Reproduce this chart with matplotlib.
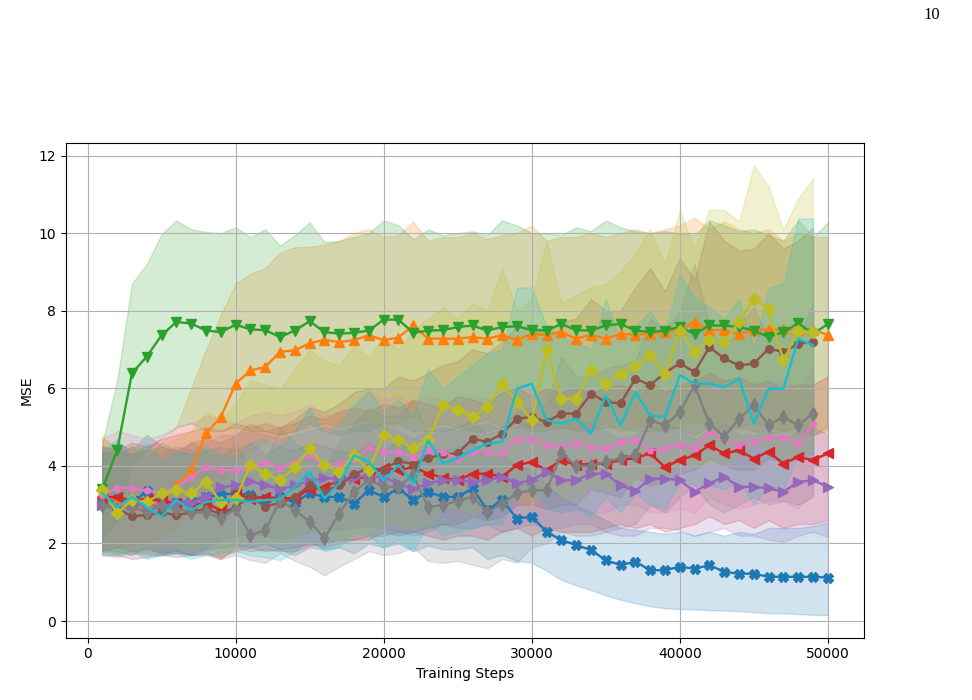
import numpy as np
from matplotlib import pyplot as plt

steps = [1000 * k for k in range(1, 51)]

blue_mean = [3.10, 3.15, 3.05, 3.35, 3.05, 3.05, 3.10, 3.20, 3.25, 3.30,
             3.25, 3.15, 3.20, 3.05, 3.30, 3.20, 3.20, 3.03, 3.37, 3.20,
             3.42, 3.12, 3.33, 3.20, 3.20, 3.42, 2.86, 3.12, 2.64, 2.69,
             2.30, 2.09, 1.96, 1.83, 1.57, 1.44, 1.53, 1.31, 1.31, 1.40,
             1.35, 1.44, 1.27, 1.22, 1.22, 1.14, 1.14, 1.14, 1.14, 1.12]
blue_upper = [4.3, 4.6, 4.4, 4.8, 4.5, 4.3, 4.6, 4.4, 4.5, 4.4,
              4.6, 4.3, 4.5, 4.4, 4.6, 4.5, 4.4, 4.3, 4.6, 4.4,
              4.7, 4.3, 4.5, 4.4, 4.5, 4.6, 4.2, 4.3, 4.0, 3.9,
              3.5, 3.2, 3.0, 2.8, 2.6, 2.4, 2.35, 2.3, 2.25, 2.3,
              2.2, 2.3, 2.2, 2.3, 2.25, 2.4, 2.4, 2.4, 2.45, 2.55]
blue_lower = [1.85, 1.8, 1.7, 1.9, 1.75, 1.8, 1.7, 1.85, 1.9, 1.95,
              1.9, 2.0, 1.85, 1.7, 1.9, 1.85, 1.9, 1.75, 2.0, 1.9,
              2.0, 1.8, 1.95, 1.85, 1.85, 1.9, 1.6, 1.7, 1.55, 1.5,
              1.3, 1.06, 0.92, 0.8, 0.66, 0.55, 0.46, 0.38, 0.33, 0.31,
              0.3, 0.28, 0.27, 0.25, 0.23, 0.2, 0.2, 0.18, 0.16, 0.15]

orange_mean = [3.30, 3.10, 3.00, 2.95, 3.10, 3.50, 3.89, 4.84, 5.26, 6.12,
               6.46, 6.55, 6.94, 6.98, 7.16, 7.25, 7.19, 7.24, 7.37, 7.24,
               7.31, 7.62, 7.28, 7.28, 7.28, 7.32, 7.28, 7.37, 7.25, 7.40,
               7.38, 7.45, 7.28, 7.38, 7.28, 7.40, 7.38, 7.40, 7.45, 7.50,
               7.72, 7.50, 7.50, 7.40, 7.50, 7.52, 7.52, 7.50, 7.50, 7.38]
orange_upper = [4.7, 4.5, 4.3, 4.5, 4.6, 5.0, 6.0, 7.0, 7.9, 8.7,
                8.95, 9.1, 9.5, 9.64, 9.65, 9.7, 9.8, 10.0, 10.1, 9.9,
                9.95, 10.3, 9.8, 9.9, 9.9, 10.0, 9.85, 9.95, 10.0, 10.2,
                9.8, 9.9, 9.9, 10.0, 9.9, 10.0, 10.1, 10.0, 10.1, 10.2,
                10.4, 10.1, 10.3, 10.1, 10.0, 10.1, 9.8, 10.0, 9.9, 9.9]
orange_lower = [1.9, 1.9, 2.0, 2.0, 2.2, 2.4, 2.8, 3.2, 3.6, 4.1,
                4.4, 4.6, 4.8, 4.9, 5.0, 5.1, 5.0, 5.1, 5.2, 5.0,
                5.1, 5.3, 5.0, 5.1, 5.0, 5.1, 5.2, 5.0, 5.1, 5.0,
                5.1, 5.0, 4.9, 5.0, 5.1, 4.9, 5.0, 5.0, 4.9, 5.0,
                5.2, 5.0, 4.9, 5.0, 5.1, 5.0, 4.9, 4.8, 4.8, 4.9]

green_mean = [3.40, 4.40, 6.39, 6.82, 7.37, 7.71, 7.67, 7.49, 7.45, 7.64,
              7.52, 7.50, 7.32, 7.49, 7.73, 7.45, 7.41, 7.43, 7.49, 7.77,
              7.77, 7.43, 7.49, 7.50, 7.58, 7.62, 7.49, 7.58, 7.60, 7.50,
              7.49, 7.66, 7.50, 7.49, 7.62, 7.66, 7.49, 7.45, 7.49, 7.58,
              7.40, 7.62, 7.62, 7.58, 7.49, 7.32, 7.45, 7.68, 7.40, 7.66]
green_upper = [4.6, 6.2, 8.7, 9.2, 9.98, 10.33, 10.1, 10.03, 10.0, 10.15,
               9.9, 10.1, 9.68, 9.95, 10.28, 9.77, 9.8, 9.9, 10.0, 10.33,
               10.2, 9.85, 10.1, 9.95, 10.0, 10.05, 9.95, 10.33, 10.2, 10.0,
               10.0, 9.95, 10.15, 10.05, 10.33, 10.15, 10.05, 10.0, 10.05, 10.0,
               9.95, 10.33, 10.2, 10.05, 10.1, 9.95, 9.8, 10.33, 9.9, 10.28]
green_lower = [2.1, 2.6, 4.1, 4.4, 4.7, 5.0, 5.1, 4.9, 4.9, 5.0,
               4.9, 4.9, 4.8, 4.9, 5.1, 4.9, 4.8, 4.9, 4.9, 5.1,
               5.1, 4.9, 4.9, 4.9, 5.0, 4.9, 4.9, 5.0, 5.0, 4.9,
               4.9, 5.0, 4.9, 4.9, 5.0, 5.0, 4.9, 4.9, 4.9, 5.0,
               4.8, 5.0, 5.0, 5.0, 4.9, 4.8, 4.9, 5.0, 4.8, 5.0]

red_mean = [3.20, 3.20, 3.10, 3.15, 3.10, 3.05, 2.99, 3.05, 2.85, 3.30,
            3.15, 3.20, 3.15, 3.18, 3.40, 3.45, 3.63, 3.67, 3.72, 3.95,
            3.89, 3.97, 3.80, 3.70, 3.63, 3.80, 3.80, 3.72, 4.02, 4.10,
            3.89, 4.15, 4.02, 4.06, 4.06, 4.15, 4.20, 4.32, 3.97, 4.15,
            4.27, 4.53, 4.32, 4.40, 4.19, 4.36, 4.06, 4.23, 4.15, 4.32]
red_upper = [4.5, 4.4, 4.6, 4.5, 4.7, 4.8, 4.9, 5.0, 4.9, 5.1,
             5.0, 5.1, 5.0, 5.1, 5.3, 5.2, 5.4, 5.5, 5.4, 5.6,
             5.5, 5.7, 5.6, 5.5, 5.8, 5.7, 5.6, 5.9, 6.0, 5.8,
             6.0, 5.9, 6.0, 5.9, 6.0, 6.1, 5.9, 6.2, 5.9, 6.1,
             6.2, 6.4, 6.2, 6.3, 6.1, 6.2, 6.0, 6.1, 6.1, 6.3]
red_lower = [1.8, 1.9, 1.8, 1.85, 1.75, 1.8, 1.7, 1.75, 1.6, 1.9,
             1.8, 1.85, 1.8, 1.8, 1.95, 2.0, 2.1, 2.1, 2.1, 2.3,
             2.2, 2.3, 2.2, 2.1, 2.2, 2.2, 2.1, 2.3, 2.4, 2.2,
             2.4, 2.3, 2.3, 2.3, 2.4, 2.5, 2.4, 2.5, 2.3, 2.4,
             2.5, 2.7, 2.5, 2.6, 2.4, 2.6, 2.4, 2.5, 2.5, 2.6]

purple_mean = [3.00, 2.90, 3.00, 3.00, 2.95, 3.05, 3.05, 3.20, 3.45, 3.50,
               3.60, 3.50, 3.40, 3.50, 3.60, 3.70, 3.65, 3.70, 3.75, 3.70,
               3.55, 3.40, 3.55, 3.63, 3.63, 3.59, 3.63, 3.72, 3.55, 3.63,
               3.85, 3.63, 3.63, 3.80, 3.80, 3.50, 3.35, 3.67, 3.67, 3.63,
               3.33, 3.55, 3.72, 3.46, 3.46, 3.42, 3.33, 3.59, 3.63, 3.46]
purple_upper = [4.4, 4.3, 4.5, 4.4, 4.3, 4.5, 4.4, 4.6, 4.8, 4.8,
                4.9, 4.8, 4.7, 4.8, 4.9, 5.0, 4.9, 5.0, 5.1, 5.0,
                4.9, 4.7, 4.9, 5.0, 4.9, 5.0, 5.1, 4.9, 5.0, 5.2,
                5.0, 5.0, 5.2, 5.1, 4.9, 4.7, 4.8, 5.0, 5.0, 5.0,
                4.7, 4.9, 5.1, 4.8, 4.8, 4.8, 4.7, 4.9, 5.0, 4.8]
purple_lower = [1.7, 1.65, 1.75, 1.7, 1.7, 1.75, 1.75, 1.9, 2.1, 2.2,
                2.25, 2.2, 2.1, 2.2, 2.3, 2.4, 2.35, 2.4, 2.45, 2.4,
                2.3, 2.2, 2.3, 2.5, 2.4, 2.4, 2.5, 2.3, 2.4, 2.5,
                2.4, 2.4, 2.5, 2.5, 2.3, 2.2, 2.2, 2.4, 2.4, 2.34,
                2.2, 2.3, 2.4, 2.2, 2.2, 2.1, 2.04, 2.2, 2.3, 2.17]

brown_mean = [3.00, 2.90, 2.70, 2.73, 2.80, 2.73, 2.80, 2.90, 2.75, 2.95,
              3.20, 2.95, 3.05, 3.20, 3.50, 3.35, 3.50, 3.78, 3.95, 3.90,
              4.12, 4.05, 4.20, 4.30, 4.32, 4.70, 4.62, 4.83, 5.22, 5.26,
              5.13, 5.35, 5.35, 5.86, 5.65, 5.61, 6.25, 6.08, 6.40, 6.64,
              6.42, 7.06, 6.77, 6.59, 6.64, 7.02, 6.94, 7.15, 7.19]
brown_upper = [4.5, 4.4, 4.3, 4.4, 4.5, 4.4, 4.6, 4.7, 4.6, 4.8,
               5.1, 4.9, 5.0, 5.2, 5.5, 5.4, 5.6, 5.9, 6.0, 6.0,
               6.3, 6.2, 6.4, 6.6, 6.7, 7.0, 6.9, 7.2, 7.6, 7.6,
               7.5, 7.7, 7.8, 8.3, 8.0, 8.0, 8.6, 9.1, 8.5, 9.35,
               8.8, 10.3, 9.8, 9.55, 9.6, 10.0, 9.6, 9.8, 10.15]
brown_lower = [1.7, 1.7, 1.6, 1.65, 1.7, 1.65, 1.7, 1.75, 1.65, 1.8,
               1.9, 1.8, 1.85, 1.9, 2.0, 1.9, 2.0, 2.1, 2.2, 2.2,
               2.3, 2.3, 2.4, 2.5, 2.5, 2.7, 2.6, 2.7, 3.0, 3.0,
               2.9, 3.0, 3.0, 3.4, 3.3, 3.2, 3.7, 3.5, 3.6, 3.8,
               3.9, 4.2, 4.0, 3.9, 3.9, 4.2, 4.1, 4.3, 4.3]

pink_mean = [3.25, 3.44, 3.42, 3.37, 3.29, 3.46, 3.72, 3.97, 3.89, 3.89,
             3.94, 4.10, 3.94, 4.10, 4.27, 4.02, 4.06, 4.19, 4.49, 4.36,
             4.36, 4.23, 4.40, 4.36, 4.19, 4.36, 4.36, 4.32, 4.70, 4.70,
             4.53, 4.49, 4.58, 4.49, 4.45, 4.62, 4.66, 4.40, 4.45, 4.53,
             4.45, 4.88, 4.70, 4.53, 4.62, 4.75, 4.75, 4.58, 5.09]
pink_upper = [4.7, 4.9, 4.8, 4.7, 4.8, 5.0, 5.1, 5.3, 5.2, 5.1,
              5.3, 5.4, 5.3, 5.4, 5.6, 5.3, 5.4, 5.5, 5.9, 5.7,
              5.8, 5.6, 5.8, 5.7, 5.6, 5.8, 5.7, 5.7, 6.1, 6.0,
              5.9, 5.9, 6.0, 5.9, 5.8, 6.0, 6.1, 5.8, 5.9, 6.0,
              5.9, 6.3, 6.1, 6.0, 6.0, 6.2, 6.2, 6.0, 6.5]
pink_lower = [1.8, 2.0, 1.9, 1.9, 1.8, 1.9, 2.1, 2.3, 2.3, 2.3,
              2.3, 2.5, 2.3, 2.5, 2.6, 2.4, 2.4, 2.6, 2.8, 2.7,
              2.7, 2.6, 2.7, 2.7, 2.6, 2.7, 2.7, 2.7, 3.0, 3.0,
              2.9, 2.8, 2.9, 2.8, 2.8, 3.0, 3.0, 2.8, 2.8, 2.9,
              2.8, 3.2, 3.0, 2.9, 3.0, 3.1, 3.1, 2.9, 3.3]

gray_mean = [3.00, 2.90, 2.95, 2.80, 3.00, 2.90, 2.80, 2.80, 2.65, 2.90,
             2.21, 2.34, 3.12, 2.86, 2.56, 2.13, 2.77, 3.33, 3.63, 3.46,
             3.46, 3.76, 2.94, 2.99, 3.10, 3.20, 2.81, 3.03, 3.29, 3.37,
             3.37, 4.32, 4.00, 4.00, 4.10, 4.20, 4.27, 5.18, 5.05, 5.39,
             6.08, 5.09, 4.75, 5.22, 5.56, 5.05, 5.26, 5.05, 5.35]
gray_upper = [4.4, 4.3, 4.5, 4.2, 4.6, 4.4, 4.3, 4.4, 4.2, 4.6,
              3.9, 4.1, 5.0, 4.6, 4.3, 3.9, 4.6, 5.1, 5.5, 5.3,
              5.3, 5.7, 4.8, 4.9, 5.0, 5.2, 4.8, 5.0, 5.4, 5.5,
              5.6, 6.8, 6.3, 6.3, 6.5, 6.6, 6.7, 7.8, 7.5, 8.0,
              9.2, 7.6, 7.0, 7.6, 8.1, 7.3, 7.6, 7.3, 8.2]
gray_lower = [1.8, 1.75, 1.8, 1.75, 1.7, 1.75, 1.7, 1.7, 1.6, 1.7,
              1.57, 1.5, 1.75, 1.55, 1.4, 1.18, 1.4, 1.6, 1.8, 1.7,
              1.75, 1.9, 1.55, 1.5, 1.55, 1.45, 1.36, 1.6, 1.5, 1.9,
              2.0, 2.3, 2.2, 2.2, 2.3, 2.4, 2.5, 3.0, 2.8, 3.2,
              3.5, 3.0, 2.8, 3.0, 3.2, 3.0, 3.1, 3.0, 3.2]

olive_mean = [3.39, 2.78, 3.12, 3.07, 3.29, 3.37, 3.29, 3.59, 3.07, 3.16,
              4.02, 3.80, 3.63, 3.97, 4.45, 4.02, 3.85, 4.27, 3.89, 4.79,
              4.66, 4.45, 4.66, 5.56, 5.45, 5.26, 5.52, 6.12, 5.65, 5.18,
              6.98, 5.73, 5.73, 6.46, 6.12, 6.38, 6.57, 6.85, 6.38, 7.49,
              6.94, 7.24, 7.19, 7.71, 8.31, 8.05, 6.72, 7.49, 7.45]
olive_upper = [4.8, 4.3, 4.5, 4.4, 4.5, 4.7, 4.9, 5.4, 5.2, 5.6,
               6.2, 6.1, 6.0, 6.5, 7.0, 6.7, 6.6, 7.1, 6.8, 7.3,
               7.0, 7.5, 7.8, 8.1, 7.8, 8.2, 8.0, 9.1, 8.0, 8.3,
               9.8, 8.2, 8.4, 8.6, 8.7, 9.0, 9.5, 10.1, 9.2, 10.6,
               9.6, 10.6, 10.6, 10.3, 11.75, 11.2, 10.1, 10.9, 11.4]
olive_lower = [1.8, 1.7, 1.8, 1.8, 1.9, 1.9, 1.8, 2.0, 1.8, 1.9,
               2.2, 2.1, 2.0, 2.2, 2.4, 2.2, 2.1, 2.3, 2.2, 2.6,
               2.5, 2.4, 2.5, 3.0, 2.9, 2.8, 2.9, 3.3, 3.1, 2.9,
               3.6, 3.2, 3.2, 3.5, 3.4, 3.5, 3.6, 3.8, 3.6, 4.3,
               4.0, 4.1, 4.1, 4.3, 4.6, 4.5, 3.9, 4.3, 4.4]

cyan_mean = [3.29, 2.94, 3.20, 2.94, 2.69, 3.12, 2.86, 3.07, 3.12, 3.12,
             3.07, 3.12, 3.14, 3.46, 3.85, 3.16, 3.55, 4.27, 4.10, 3.63,
             4.02, 3.55, 4.66, 4.06, 4.20, 4.40, 4.58, 4.62, 5.99, 6.12,
             5.18, 5.09, 5.22, 4.83, 5.82, 5.05, 5.90, 5.30, 5.26, 6.34,
             6.12, 6.12, 6.03, 6.25, 5.09, 5.99, 5.99, 7.28, 7.11]
cyan_upper = [4.4, 4.7, 4.2, 4.6, 4.1, 4.4, 4.3, 4.5, 4.3, 4.2,
              4.6, 4.7, 4.5, 4.9, 5.5, 4.8, 5.1, 5.6, 5.95, 5.4,
              5.7, 5.3, 6.5, 6.0, 6.3, 6.6, 6.9, 7.0, 8.6, 8.6,
              7.6, 7.3, 7.2, 7.0, 8.3, 7.2, 7.6, 8.0, 7.4, 8.95,
              8.3, 8.1, 7.8, 8.3, 7.0, 8.6, 8.7, 10.38, 10.38]
cyan_lower = [1.75, 1.7, 1.8, 1.6, 1.7, 1.75, 1.6, 1.7, 1.75, 1.8,
              1.7, 1.65, 1.57, 1.8, 2.1, 1.8, 1.9, 2.3, 2.2, 1.9,
              2.1, 1.8, 2.5, 2.2, 2.3, 2.4, 2.5, 2.5, 3.3, 3.4,
              2.9, 2.8, 2.9, 2.7, 3.2, 2.8, 3.3, 3.0, 2.9, 3.6,
              3.5, 3.5, 3.4, 3.6, 3.0, 3.5, 3.4, 4.3, 4.2]

series = [
    (blue_mean, blue_lower, blue_upper, "X", 7),
    (orange_mean, orange_lower, orange_upper, "^", 7),
    (green_mean, green_lower, green_upper, "v", 7),
    (red_mean, red_lower, red_upper, "<", 7),
    (purple_mean, purple_lower, purple_upper, ">", 7),
    (brown_mean, brown_lower, brown_upper, "o", 5.5),
    (pink_mean, pink_lower, pink_upper, "p", 4.5),
    (gray_mean, gray_lower, gray_upper, "d", 7),
    (olive_mean, olive_lower, olive_upper, "D", 6.5),
    (cyan_mean, cyan_lower, cyan_upper, "", 6),
]

fig = plt.figure(figsize=(9.72, 7.0), dpi=100)
ax = fig.add_axes([0.068, 0.089, 0.821, 0.707])

# bands first, lines on top
for i, (mean, lower, upper, marker, ms) in enumerate(series):
    x = steps[:len(mean)]
    ax.fill_between(x, lower, upper, color=f"C{i}", alpha=0.2)

for i, (mean, lower, upper, marker, ms) in enumerate(series):
    x = steps[:len(mean)]
    ax.plot(x, mean, color=f"C{i}", marker=marker, markersize=ms, linewidth=1.7)

ax.set_xlabel("Training Steps")
ax.set_ylabel("MSE")
ax.grid(True)

fig.text(0.959, 0.978, "10", ha="center", va="center",
         family="Liberation Serif", fontsize=12)

fig.savefig("out.png", format="png")
